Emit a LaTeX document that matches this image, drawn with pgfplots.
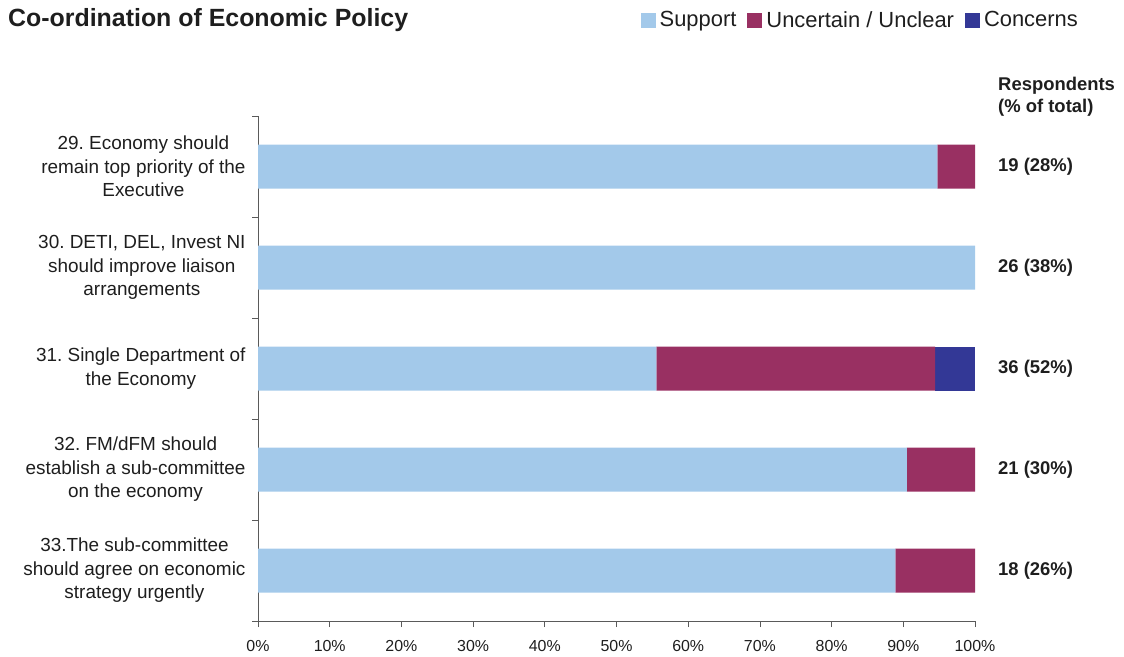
\documentclass[border=0pt]{standalone}
\usepackage{pgfplots}
\pgfplotsset{compat=1.18}
\usepackage{fontspec}
\setmainfont{Liberation Sans}
\frenchspacing
\definecolor{sup}{RGB}{163,201,234}
\definecolor{unc}{RGB}{153,48,98}
\definecolor{con}{RGB}{51,56,150}
\definecolor{axc}{RGB}{90,90,90}
\definecolor{txt}{RGB}{30,30,30}
\pgfplotstableread{
y support uncertain concerns
4 94.74 5.26 0
3 100 0 0
2 55.56 38.89 5.56
1 90.48 9.52 0
0 88.89 11.11 0
}\datatable
\pgfplotsset{sqlegend/.style={legend image code/.code={\fill[##1] (0bp,-7.5bp) rectangle (15bp,7.5bp);}}}
\begin{document}
\begin{tikzpicture}[x=1bp,y=1bp]
\useasboundingbox (0,0) rectangle (1124,-657);
\node[anchor=west,inner sep=0pt,text=txt,font=\bfseries\fontsize{25}{29}\selectfont] at (8,-20) {Co-ordination of Economic Policy};
\node[anchor=north west,inner sep=0pt,align=left,text=txt,font=\bfseries\fontsize{18.5}{22}\selectfont] at (998,-77) {Respondents\\(\% of total)};
\begin{axis}[at={(258bp,-621bp)}, anchor=south west, scale only axis, width=717bp, height=505bp,
  xbar stacked, bar width=44bp, xmin=0, xmax=100, ymin=-0.5, ymax=4.5,
  axis x line*=bottom, axis y line*=left,
  axis line style={axc, line width=0.8pt},
  every tick/.style={axc, line width=0.8pt},
  tick align=outside, major tick length=6bp,
  xtick={0,10,...,100},
  xticklabel={\pgfmathprintnumber{\tick}\%},
  /pgf/number format/assume math mode=true,
  xticklabel style={text=txt, font=\fontsize{16}{19}\selectfont, yshift=-10bp},
  ytick={-0.5,0.5,1.5,2.5,3.5,4.5}, yticklabels={},
  extra y ticks={0,1,2,3,4},
  extra y tick labels={{33.The sub-committee\\should agree on economic\\strategy urgently},
    {32. FM/dFM should\\establish a sub-committee\\on the economy},
    {31. Single Department of\\the Economy},
    {30. DETI, DEL, Invest NI\\should improve liaison\\arrangements},
    {29. Economy should\\remain top priority of the\\Executive}},
  extra y tick style={major tick length=0pt, tick style={draw=none},
    yticklabel style={align=center, text=txt, font=\fontsize{19}{23.5}\selectfont, xshift=-9bp}},
  clip=false,
  legend columns=3,
  legend style={draw=none, fill=none, at={(1.1437,1.19)}, anchor=east,
    font=\fontsize{22}{25}\selectfont, inner sep=0pt, text=txt,
    nodes={inner sep=0bp},
    /tikz/every odd column/.append style={column sep=4bp},
    /tikz/every even column/.append style={column sep=11bp}},
]
\addplot[fill=sup, draw=none, sqlegend] table[x=support, y=y] {\datatable};
\addplot[fill=unc, draw=none, sqlegend] table[x=uncertain, y=y] {\datatable};
\addplot[fill=con, draw=none, sqlegend] table[x=concerns, y=y] {\datatable};
\legend{Support, Uncertain / Unclear, Concerns}
\node[anchor=west, inner sep=0pt, text=txt, font=\bfseries\fontsize{18.5}{22}\selectfont] at (axis cs:100,4) [xshift=23bp] {19 (28\%)};
\node[anchor=west, inner sep=0pt, text=txt, font=\bfseries\fontsize{18.5}{22}\selectfont] at (axis cs:100,3) [xshift=23bp] {26 (38\%)};
\node[anchor=west, inner sep=0pt, text=txt, font=\bfseries\fontsize{18.5}{22}\selectfont] at (axis cs:100,2) [xshift=23bp] {36 (52\%)};
\node[anchor=west, inner sep=0pt, text=txt, font=\bfseries\fontsize{18.5}{22}\selectfont] at (axis cs:100,1) [xshift=23bp] {21 (30\%)};
\node[anchor=west, inner sep=0pt, text=txt, font=\bfseries\fontsize{18.5}{22}\selectfont] at (axis cs:100,0) [xshift=23bp] {18 (26\%)};
\end{axis}
\end{tikzpicture}
\end{document}
